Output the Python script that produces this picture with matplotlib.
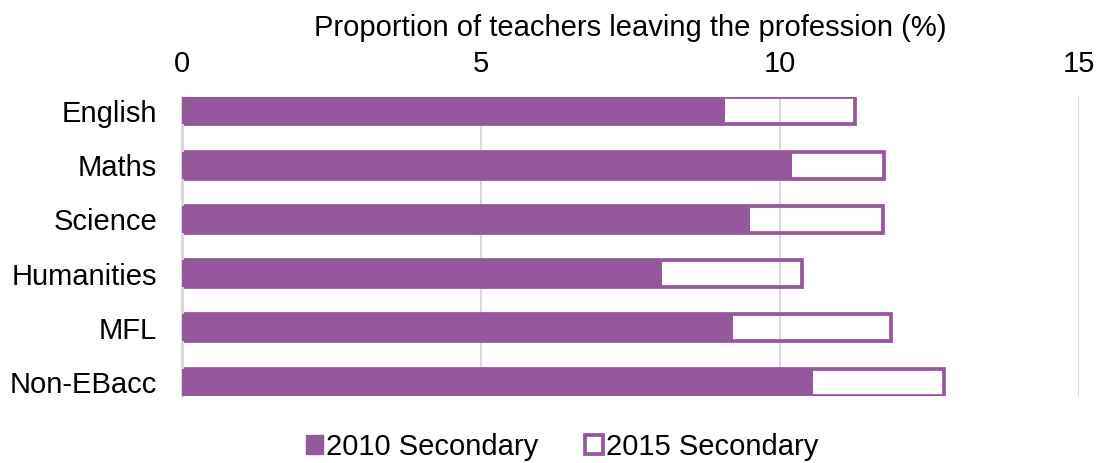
import matplotlib
matplotlib.use("Agg")
import matplotlib.pyplot as plt
from matplotlib.patches import Patch

plt.rcParams['font.family'] = ['Liberation Sans', 'DejaVu Sans']

categories = ["English", "Maths", "Science", "Humanities", "MFL", "Non-EBacc"]
values_2010 = [9.08, 10.2, 9.5, 8.02, 9.22, 10.55]
values_2015 = [11.25, 11.74, 11.72, 10.37, 11.85, 12.75]
xticks = [0, 5, 10, 15]
series_names = ["2010 Secondary", "2015 Secondary"]
xlabel = "Proportion of teachers leaving the profession (%)"

purple = "#95589C"
fs = 21

fig = plt.figure(figsize=(10.99, 4.63), dpi=100)
ax = fig.add_axes([182/1099, 1-396/463, (1079-182)/1099, (396-97)/463])

y = list(range(len(categories)))
ax.barh(y, values_2015, height=0.5, facecolor="none", edgecolor=purple, linewidth=2.7, zorder=2)
ax.barh(y, values_2010, height=0.5, color=purple, edgecolor="none", zorder=3)

ax.set_xlim(0, 15)
ax.set_ylim(len(categories) - 1 + 0.255, -0.255)
ax.set_xticks(xticks)
ax.set_yticks(y)
ax.set_yticklabels(categories)
ax.xaxis.tick_top()
ax.xaxis.set_label_position("top")
ax.tick_params(axis="both", length=0, labelsize=fs, colors="black")
ax.tick_params(axis="x", pad=14)
ax.tick_params(axis="y", pad=18)
ax.set_xlabel(xlabel, fontsize=fs, labelpad=10)
ax.grid(axis="x", color="#D9D9D9", linewidth=1.5, zorder=0)
ax.set_axisbelow(True)
for s in ["top", "right", "bottom"]:
    ax.spines[s].set_visible(False)
ax.spines["left"].set_color("#D9D9D9")
ax.spines["left"].set_linewidth(2)

handles = [Patch(facecolor=purple, edgecolor=purple, label=series_names[0]),
           Patch(facecolor="white", edgecolor=purple, linewidth=2.7, label=series_names[1])]
fig.legend(handles=handles, loc="center", bbox_to_anchor=(562/1099, 1-447/463), ncol=2,
           frameon=False, fontsize=fs, handlelength=0.6, handleheight=0.6,
           handletextpad=0.1, columnspacing=1.6)

fig.savefig("out.png", dpi=100)
